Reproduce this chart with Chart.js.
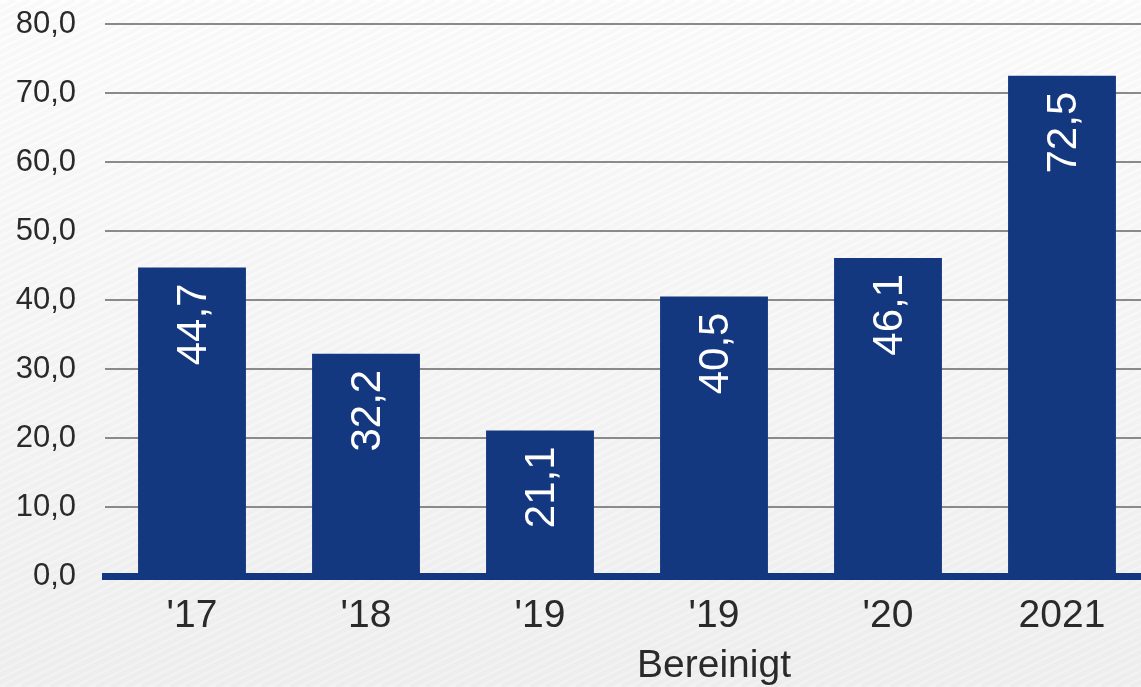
<!DOCTYPE html>
<html>
<head>
<meta charset="utf-8">
<script src="https://cdn.jsdelivr.net/npm/chart.js@4.4.1/dist/chart.umd.min.js"></script>
<style>
html,body{margin:0;padding:0;overflow:hidden;background:#f6f6f6;}
#wrap{width:1149px;height:687px;position:relative;}
</style>
</head>
<body>
<div id="wrap"><canvas id="chart"></canvas></div>
<script>
const categories = ["'17", "'18", "'19", ["'19", "Bereinigt"], "'20", "2021"];
const values = [44.7, 32.2, 21.1, 40.5, 46.1, 72.5];
const yTicks = [0, 10, 20, 30, 40, 50, 60, 70, 80];

const barColor = "#14387f";
const textColor = "#2a2a2a";

function fmt(v){
    return v.toFixed(1).replace(".", ",");
}

// light striped background
const backgroundPlugin = {
    id:"bg",
    beforeDraw(chart){
        const ctx = chart.ctx;
        const w = chart.width, h = chart.height;
        ctx.save();
        const g = ctx.createLinearGradient(0, 0, 0, h);
        g.addColorStop(0, "#fefefe");
        g.addColorStop(1, "#f2f2f2");
        ctx.fillStyle = g;
        ctx.fillRect(0, 0, w, h);
        ctx.strokeStyle = "rgba(0,0,0,0.018)";
        ctx.lineWidth = 5;
        for(let x = -h * 2; x < w + h; x += 15){
            ctx.beginPath();
            ctx.moveTo(x, h);
            ctx.lineTo(x + h * 2, 0);
            ctx.stroke();
        }
        ctx.restore();
    }
};

// rotated value labels inside the bars
const barLabelPlugin = {
    id:"barLabels",
    afterDatasetsDraw(chart){
        const ctx = chart.ctx;
        const meta = chart.getDatasetMeta(0);
        ctx.save();
        ctx.fillStyle = "#ffffff";
        ctx.font = "42px 'Liberation Sans', Arial, sans-serif";
        ctx.textAlign = "right";
        ctx.textBaseline = "middle";
        meta.data.forEach((bar, i)=>{
            ctx.save();
            ctx.translate(bar.x, bar.y + 16);
            ctx.rotate(-Math.PI / 2);
            ctx.fillText(fmt(values[i]), 0, 2);
            ctx.restore();
        });
        ctx.restore();
    }
};

new Chart(document.getElementById("chart"), {
    type:"bar",
    data:{
        labels:categories,
        datasets:[{
            data:values,
            backgroundColor:barColor,
            borderWidth:0,
            categoryPercentage:1,
            barPercentage:0.62
        }]
    },
    options:{
        responsive:true,
        maintainAspectRatio:false,
        animation:false,
        layout:{padding:{top:24, left:0, right:0, bottom:0}},
        plugins:{
            legend:{display:false},
            tooltip:{enabled:false}
        },
        scales:{
            x:{
                grid:{display:false, drawTicks:false},
                border:{display:true, color:barColor, width:7, z:1},
                ticks:{
                    color:textColor,
                    padding:15,
                    maxRotation:0,
                    font:{family:"'Liberation Sans', Arial, sans-serif", size:39, lineHeight:1.28}
                },
                afterFit(scale){ scale.height = 111; }
            },
            y:{
                min:0,
                max:80,
                afterBuildTicks(scale){
                    scale.ticks = yTicks.map(v=>({value:v}));
                },
                grid:{
                    color:"#8a8a8a",
                    lineWidth:2,
                    drawTicks:false
                },
                border:{display:false},
                ticks:{
                    color:textColor,
                    padding:29,
                    font:{family:"'Liberation Sans', Arial, sans-serif", size:31},
                    callback:(v)=>fmt(v)
                },
                afterFit(scale){
                    scale.width = 105;
                    scale.paddingTop = 0;
                    scale.paddingBottom = 0;
                }
            }
        }
    },
    plugins:[backgroundPlugin, barLabelPlugin]
});
</script>
</body>
</html>
